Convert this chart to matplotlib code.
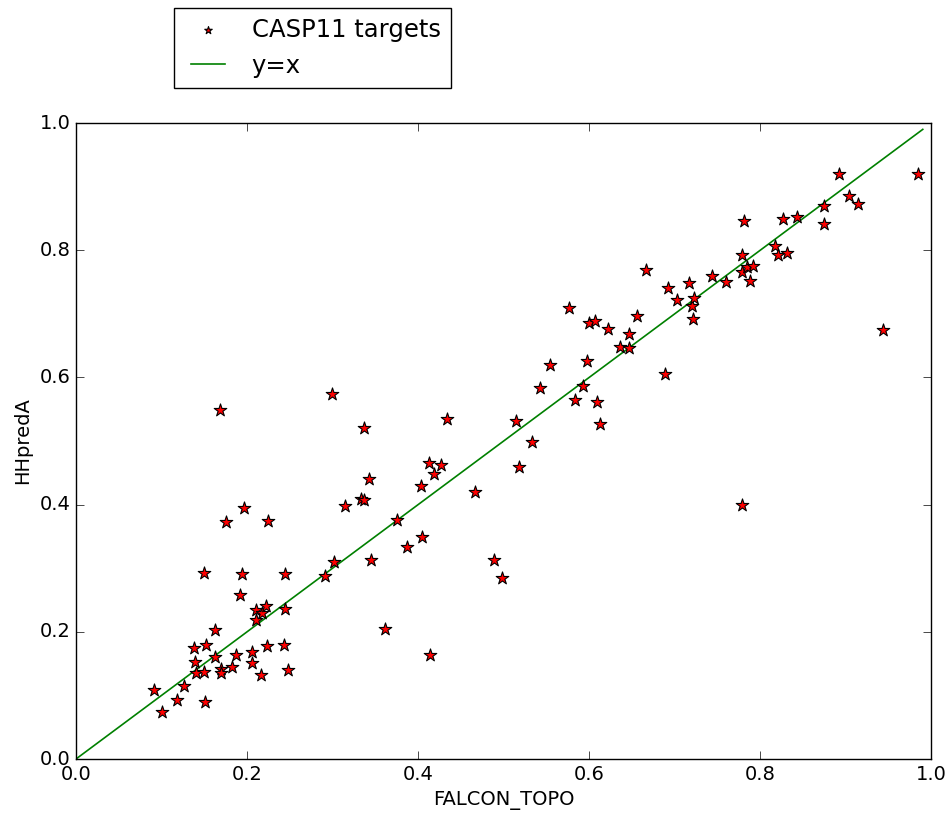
import matplotlib
matplotlib.use("Agg")
import matplotlib.pyplot as plt
import numpy as np

# FALCON_TOPO score (x) and HHpredA score (y) per CASP11 target
falcon_topo = [
    0.091, 0.101, 0.118, 0.126, 0.138, 0.139, 0.140, 0.150, 0.151, 0.150,
    0.152, 0.162, 0.163, 0.168, 0.169, 0.170, 0.175, 0.182, 0.187, 0.192,
    0.194, 0.196, 0.206, 0.206, 0.211, 0.211, 0.217, 0.216, 0.222, 0.223,
    0.225, 0.244, 0.243, 0.244, 0.248,
    0.291, 0.299, 0.302, 0.315, 0.333, 0.337, 0.337, 0.342, 0.345, 0.361,
    0.375, 0.387, 0.403, 0.405, 0.413, 0.414, 0.419, 0.427, 0.434, 0.467,
    0.489, 0.498,
    0.515, 0.518, 0.533, 0.543, 0.554, 0.576, 0.583, 0.593, 0.597, 0.600,
    0.607, 0.609, 0.613, 0.622, 0.636, 0.646, 0.647, 0.656, 0.666, 0.689,
    0.692, 0.703, 0.717, 0.720, 0.721, 0.723, 0.743, 0.760, 0.779, 0.779,
    0.781, 0.784, 0.788, 0.792, 0.779, 0.817, 0.821, 0.826, 0.831, 0.843,
    0.874, 0.875, 0.892, 0.904, 0.914, 0.944, 0.984,
]
hhpred_a = [
    0.109, 0.074, 0.093, 0.115, 0.174, 0.152, 0.136, 0.137, 0.090, 0.292,
    0.179, 0.203, 0.160, 0.548, 0.141, 0.135, 0.373, 0.145, 0.164, 0.258,
    0.291, 0.395, 0.169, 0.151, 0.218, 0.235, 0.229, 0.132, 0.241, 0.178,
    0.375, 0.291, 0.180, 0.236, 0.140,
    0.287, 0.574, 0.310, 0.398, 0.409, 0.407, 0.520, 0.441, 0.313, 0.204,
    0.376, 0.333, 0.430, 0.349, 0.466, 0.164, 0.448, 0.463, 0.534, 0.420,
    0.313, 0.285,
    0.531, 0.459, 0.499, 0.583, 0.620, 0.709, 0.564, 0.586, 0.626, 0.686,
    0.688, 0.561, 0.527, 0.676, 0.648, 0.647, 0.668, 0.697, 0.769, 0.605,
    0.741, 0.722, 0.749, 0.712, 0.692, 0.725, 0.760, 0.750, 0.792, 0.766,
    0.846, 0.774, 0.752, 0.775, 0.400, 0.806, 0.792, 0.849, 0.796, 0.852,
    0.841, 0.869, 0.920, 0.886, 0.872, 0.674, 0.920,
]
diag = [0.0, 0.99]

plt.style.use("classic")
fig = plt.figure(figsize=(9.52, 8.13), dpi=100, facecolor="white")
ax = fig.add_axes([0.0798, 0.0664, 0.8985, 0.7823])
ax.set_facecolor("white")

ax.scatter(falcon_topo, hhpred_a, marker="*", s=90, c="red",
           edgecolors="black", linewidths=0.8, label="CASP11 targets", zorder=3)
ax.plot(diag, diag, color="green", lw=1.2, label="y=x", zorder=2)

ax.set_xlim(0, 1)
ax.set_ylim(0, 1)
ax.set_xticks(np.arange(0, 1.01, 0.2))
ax.set_yticks(np.arange(0, 1.01, 0.2))
ax.tick_params(labelsize=14, direction="in", length=6)
ax.set_xlabel("FALCON_TOPO", fontsize=14)
ax.set_ylabel("HHpredA", fontsize=14)

ax.legend(loc="upper left", bbox_to_anchor=(174 / 952, 1 - 8 / 813),
          bbox_transform=fig.transFigure, borderaxespad=0,
          scatterpoints=1, markerscale=0.6, fontsize=17.5, fancybox=False)

fig.savefig("out.png", dpi=100, facecolor="white")
